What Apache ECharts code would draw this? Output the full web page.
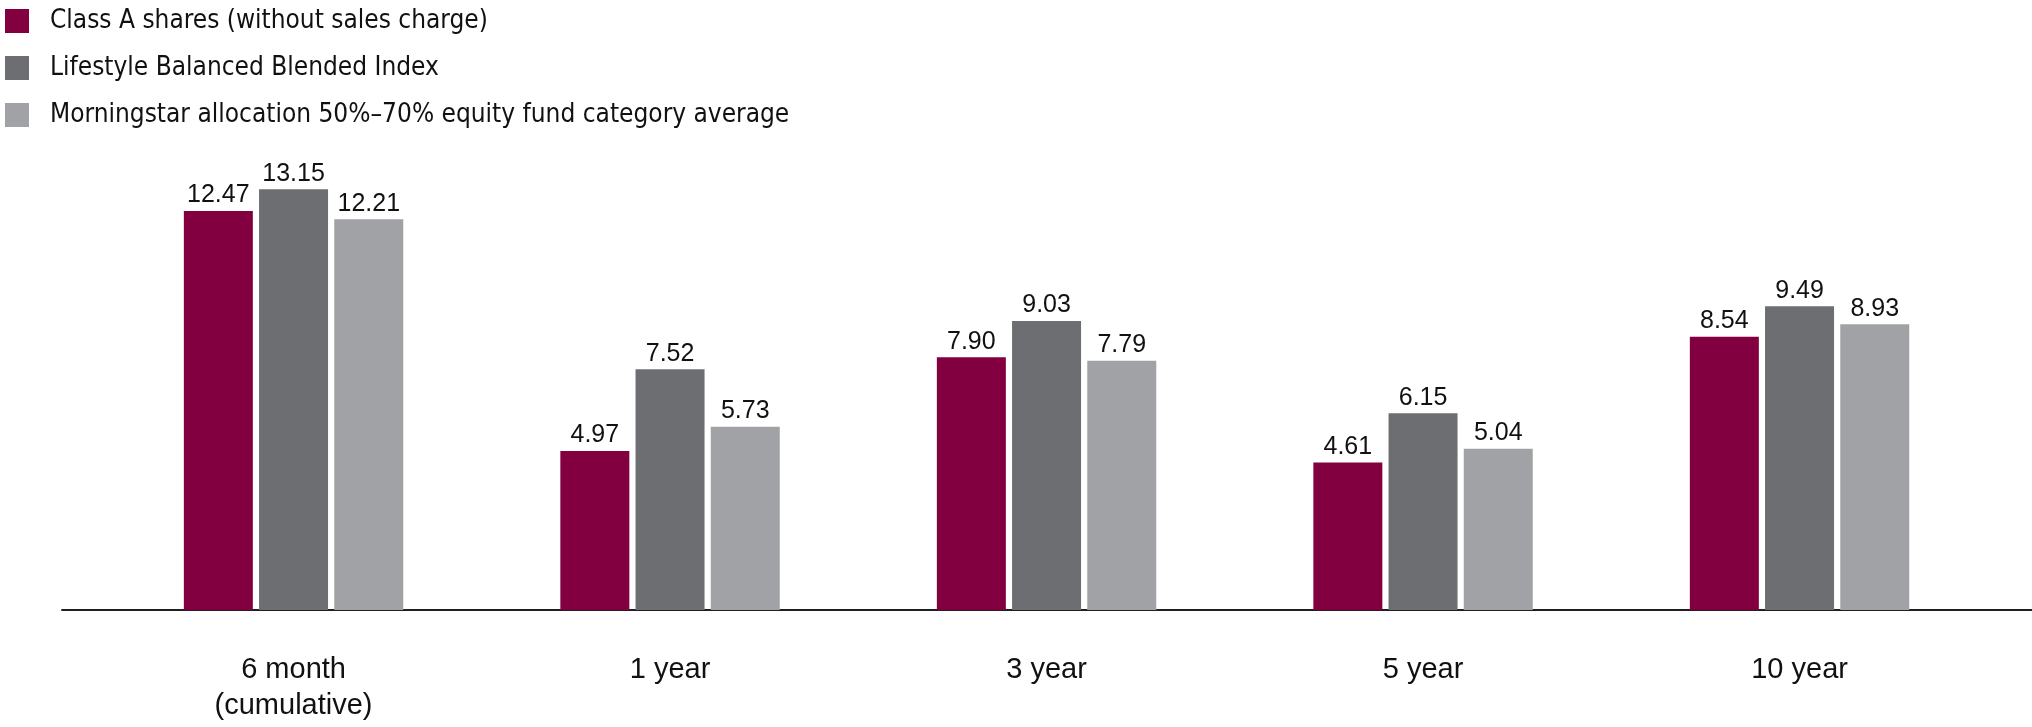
<!DOCTYPE html>
<html>
<head>
<meta charset="utf-8">
<script src="https://cdn.jsdelivr.net/npm/echarts@6/dist/echarts.min.js"></script>
<style>
html,body{margin:0;padding:0;background:#fff;}
#chart{width:2032px;height:727px;}
</style>
</head>
<body>
<div id="chart"></div>
<script>
const categories = ['6 month\n(cumulative)', '1 year', '3 year', '5 year', '10 year'];
const seriesNames = [
  'Class A shares (without sales charge)',
  'Lifestyle Balanced Blended Index',
  'Morningstar allocation 50%\u201370% equity fund category average'
];
const classA = [12.47, 4.97, 7.90, 4.61, 8.54];
const blendedIndex = [13.15, 7.52, 9.03, 6.15, 9.49];
const categoryAvg = [12.21, 5.73, 7.79, 5.04, 8.93];
const colors = ['#820040', '#6d6e72', '#a1a2a5'];

const labelFont = 'Liberation Sans, Arial, sans-serif';
const narrowFont = '"Liberation Sans Narrow", "DejaVu Sans Condensed", sans-serif';

function makeSeries(name, data, color) {
  return {
    name: name,
    type: 'bar',
    xAxisIndex: 0,
    yAxisIndex: 0,
    data: data,
    barWidth: 69,
    barGap: '9%',
    itemStyle: { color: color },
    label: {
      show: true,
      position: 'top',
      distance: 3,
      color: '#111',
      fontFamily: labelFont,
      fontSize: 25,
      formatter: p => p.value.toFixed(2)
    }
  };
}

const chart = echarts.init(document.getElementById('chart'), null, {renderer: 'canvas'});
chart.setOption({
  animation: false,
  backgroundColor: '#fff',
  legend: {
    orient: 'vertical',
    left: 5,
    top: 8,
    padding: 0,
    itemWidth: 24,
    itemHeight: 24,
    itemGap: 21,
    icon: 'rect',
    data: seriesNames,
    textStyle: {
      fontFamily: narrowFont,
      fontSize: 26,
      color: '#111',
      padding: [0, 0, 0, 16]
    }
  },
  grid: [
    { left: 105.3, right: 44.2, top: 130, height: 480, containLabel: false },
    { left: 62, right: 0, top: 130, height: 480, containLabel: false }
  ],
  xAxis: [
    {
      type: 'category',
      gridIndex: 0,
      data: categories,
      axisLine: { show: false },
      axisTick: { show: false },
      axisLabel: {
        margin: 42,
        fontFamily: labelFont,
        fontSize: 29,
        lineHeight: 36,
        color: '#111'
      }
    },
    {
      type: 'value',
      gridIndex: 1,
      min: 0,
      max: 1,
      axisLine: { show: true, lineStyle: { color: '#231f20', width: 2 } },
      axisTick: { show: false },
      axisLabel: { show: false },
      splitLine: { show: false }
    }
  ],
  yAxis: [
    { type: 'value', gridIndex: 0, min: 0, max: 15, show: false, splitLine: { show: false } },
    { type: 'value', gridIndex: 1, min: 0, max: 1, show: false, splitLine: { show: false } }
  ],
  series: [
    makeSeries(seriesNames[0], classA, colors[0]),
    makeSeries(seriesNames[1], blendedIndex, colors[1]),
    makeSeries(seriesNames[2], categoryAvg, colors[2])
  ]
});
</script>
</body>
</html>
